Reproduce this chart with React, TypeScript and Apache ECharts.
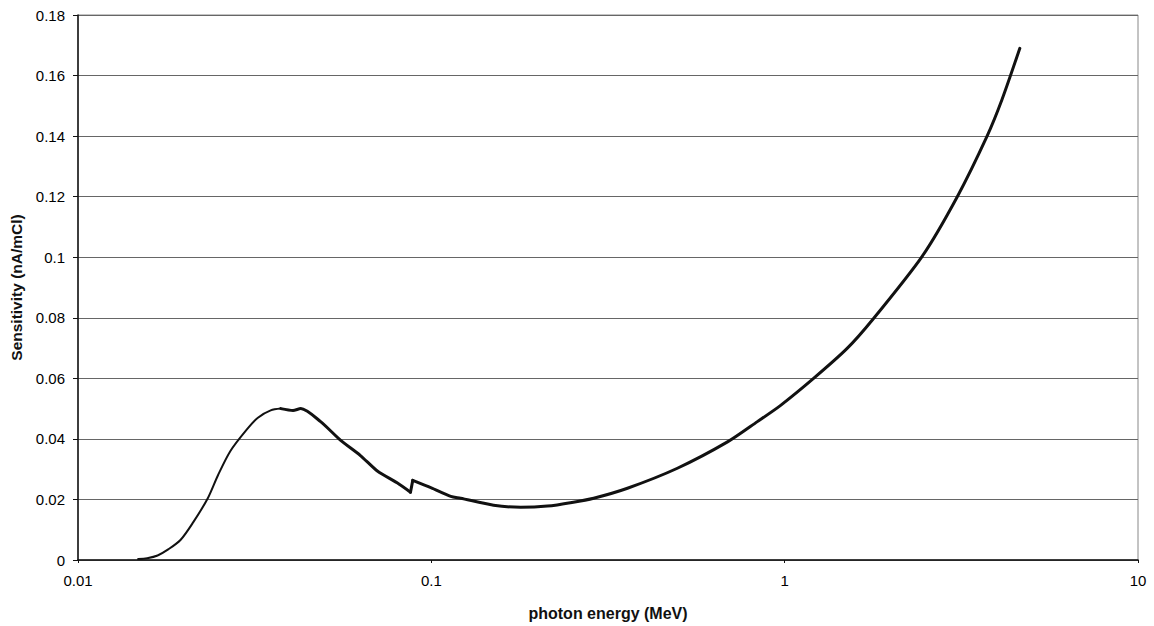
import React, { useEffect, useRef } from "react";
import * as echarts from "echarts";

// photon energy (MeV) and sensitivity (nA/mCi)
const energyRise = [0.0148, 0.0157, 0.0168, 0.018, 0.0195, 0.0212, 0.0233, 0.0249, 0.027, 0.0299, 0.0323, 0.0351, 0.0375];
const sensRise = [0.0003, 0.0006, 0.0015, 0.0035, 0.0066, 0.0125, 0.0204, 0.028, 0.036, 0.0428, 0.047, 0.0494, 0.05];

const energyFall = [0.0375, 0.0406, 0.0427, 0.0486, 0.0554, 0.063, 0.0705, 0.08, 0.0873];
const sensFall = [0.05, 0.0494, 0.05, 0.0457, 0.0395, 0.0345, 0.0293, 0.0255, 0.0224];

const energyEdge = [0.0873, 0.0886];
const sensEdge = [0.0224, 0.0263];

const energyHigh = [0.0886, 0.1, 0.1135, 0.121, 0.15, 0.179, 0.213, 0.25, 0.288, 0.359, 0.497, 0.689, 0.837, 0.972, 1.205, 1.5, 1.78, 2.45, 3.08, 3.74, 4.12, 4.63];
const sensHigh = [0.0263, 0.0238, 0.021, 0.0204, 0.0181, 0.0174, 0.0178, 0.019, 0.0204, 0.0237, 0.0303, 0.039, 0.0457, 0.051, 0.0599, 0.0698, 0.0796, 0.1003, 0.12, 0.14, 0.152, 0.169];

const xTickLabels: Record<string, string> = { "0.01": "0.01", "0.1": "0.1", "1": "1", "10": "10" };

export default function App() {
  const ref = useRef<HTMLDivElement>(null);
  useEffect(() => {
    if (!ref.current) return;
    const chart = echarts.init(ref.current, undefined, { renderer: "svg" });
    const font = "'Liberation Sans', Arial, sans-serif";
    const lineSeries = (xs: number[], ys: number[], width: number, smooth: number | boolean) => ({
      type: "line",
      data: xs.map((e, i) => [e, ys[i]]),
      showSymbol: false,
      smooth,
      lineStyle: { color: "#111", width, join: "round", cap: "round" },
    });
    chart.setOption({
      animation: false,
      backgroundColor: "#ffffff",
      grid: {
        left: 77,
        right: 16,
        top: 15,
        bottom: 64,
        show: true,
        borderColor: "#888",
        borderWidth: 1,
        backgroundColor: "transparent",
      },
      xAxis: {
        type: "log",
        logBase: 10,
        min: 0.01,
        max: 10,
        name: "photon energy (MeV)",
        nameLocation: "middle",
        nameGap: 45,
        nameTextStyle: { fontFamily: font, fontSize: 16, fontWeight: "bold", color: "#111" },
        axisLine: { show: true, lineStyle: { color: "#111", width: 1.5 } },
        axisTick: { show: true, length: 3, lineStyle: { color: "#111" } },
        minorTick: { show: false },
        splitLine: { show: false },
        axisLabel: {
          margin: 13,
          fontFamily: font,
          fontSize: 15,
          color: "#000",
          formatter: (v: number) => {
            const k = String(Number(v.toPrecision(6)));
            return xTickLabels[k] ?? k;
          },
        },
      },
      yAxis: {
        type: "value",
        min: 0,
        max: 0.18,
        interval: 0.02,
        name: "Sensitivity (nA/mCl)",
        nameLocation: "middle",
        nameGap: 54,
        nameTextStyle: { fontFamily: font, fontSize: 15.5, fontWeight: "bold", color: "#111" },
        axisLine: { show: true, lineStyle: { color: "#111", width: 1.5 } },
        axisTick: { show: true, length: 5, lineStyle: { color: "#111" } },
        splitLine: { show: true, lineStyle: { color: "#666", width: 1 } },
        axisLabel: {
          margin: 13,
          fontFamily: font,
          fontSize: 15,
          color: "#000",
          formatter: (v: number) => String(Number(v.toFixed(4))),
        },
      },
      series: [
        lineSeries(energyRise, sensRise, 2, 0.3),
        lineSeries(energyFall, sensFall, 3, 0.25),
        lineSeries(energyEdge, sensEdge, 3, false),
        lineSeries(energyHigh, sensHigh, 3, 0.25),
      ],
    });
    return () => chart.dispose();
  }, []);
  return <div ref={ref} style={{ width: 1154, height: 626, position: "absolute", left: 0, top: 0 }} />;
}
